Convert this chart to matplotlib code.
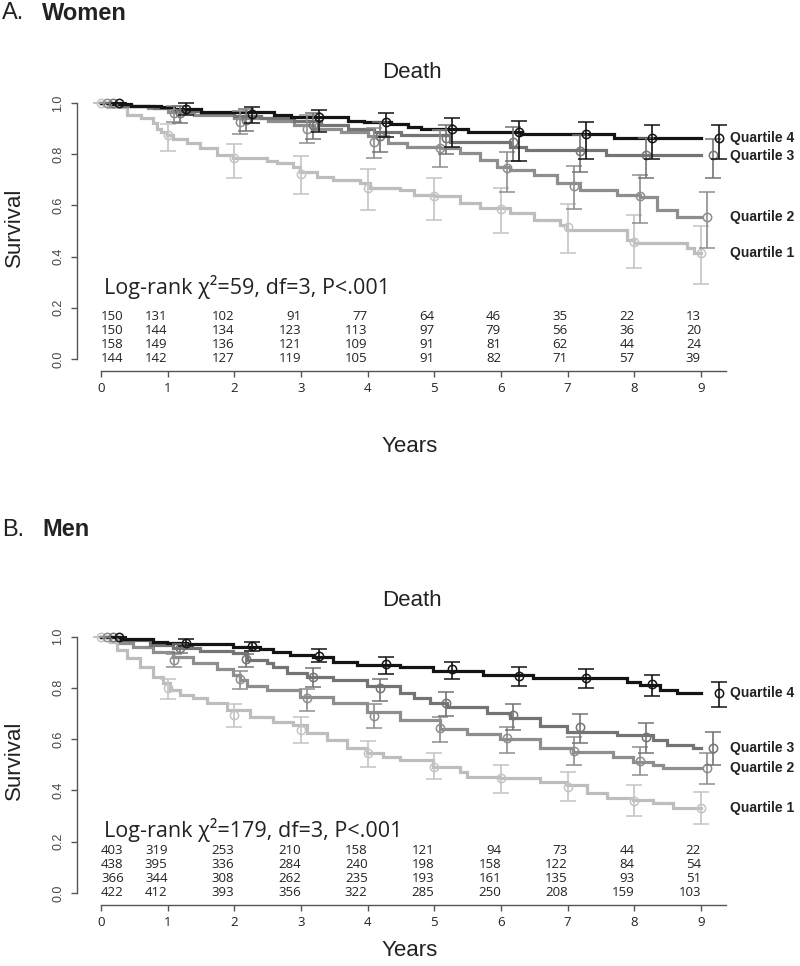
import matplotlib
matplotlib.use("Agg")
import matplotlib.pyplot as plt
import numpy as np

# ---------------- data ----------------
quartiles = ["Quartile 1", "Quartile 2", "Quartile 3", "Quartile 4"]
year_ticks = [0, 1, 2, 3, 4, 5, 6, 7, 8, 9]
surv_ticks = [0.0, 0.2, 0.4, 0.6, 0.8, 1.0]

# Women KM step curves (time of step, survival after step)
w_q1_t = [0, 0.1, 0.385, 0.6, 0.785, 0.835, 0.9, 0.985, 1.085, 1.285, 1.485, 1.735, 1.985, 2.485, 2.635,
          2.885, 2.985, 3.235, 3.485, 3.885, 4.035, 4.485, 4.69, 4.99, 5.39, 5.69, 6.14, 6.49, 6.89,
          6.99, 7.89, 7.99, 8.79, 8.89]
w_q1_s = [1.0, 0.985, 0.953, 0.94, 0.92, 0.9, 0.885, 0.875, 0.86, 0.842, 0.823, 0.797, 0.784, 0.775, 0.767,
          0.749, 0.732, 0.712, 0.699, 0.686, 0.667, 0.66, 0.641, 0.635, 0.608, 0.589, 0.569, 0.543, 0.523,
          0.504, 0.465, 0.452, 0.432, 0.413]
w_q2_t = [0, 0.3, 0.7, 1.0, 1.4, 2.0, 2.5, 2.9, 3.2, 3.6, 4.0, 4.3, 4.59, 5.09, 5.39, 5.69, 5.94, 6.14,
          6.49, 6.84, 7.19, 7.74, 8.09, 8.34, 8.64]
w_q2_s = [1.0, 0.99, 0.98, 0.966, 0.953, 0.94, 0.93, 0.915, 0.9, 0.888, 0.87, 0.845, 0.83, 0.823, 0.803,
          0.777, 0.749, 0.738, 0.719, 0.686, 0.66, 0.64, 0.631, 0.582, 0.553]
w_q3_t = [0, 0.3, 0.8, 1.1, 1.5, 2.0, 2.4, 2.9, 3.3, 3.7, 4.1, 4.5, 5.23, 6.13, 6.38, 7.58]
w_q3_s = [1.0, 0.99, 0.98, 0.97, 0.96, 0.95, 0.94, 0.93, 0.915, 0.9, 0.885, 0.875, 0.849, 0.83, 0.816, 0.797]
w_q4_t = [0, 0.15, 0.45, 0.9, 1.1, 1.5, 2.6, 2.85, 3.7, 3.95, 4.35, 4.6, 4.8, 5.5, 6.3, 7.7]
w_q4_s = [1.0, 0.995, 0.99, 0.985, 0.975, 0.965, 0.955, 0.945, 0.93, 0.925, 0.918, 0.907, 0.898, 0.888,
          0.879, 0.862]

# Men KM step curves
m_q1_t = [0, 0.135, 0.235, 0.385, 0.585, 0.785, 0.935, 1.035, 1.185, 1.385, 1.585, 1.885, 2.235, 2.585,
          2.885, 3.085, 3.385, 3.685, 3.985, 4.235, 4.485, 4.985, 5.385, 5.485, 5.985, 6.585, 6.985, 7.285,
          7.585, 7.985, 8.285, 8.585]
m_q1_s = [1.0, 0.98, 0.947, 0.915, 0.882, 0.843, 0.818, 0.791, 0.772, 0.759, 0.74, 0.713, 0.687, 0.668,
          0.655, 0.623, 0.596, 0.564, 0.545, 0.529, 0.519, 0.492, 0.473, 0.453, 0.447, 0.434, 0.421, 0.389,
          0.369, 0.363, 0.35, 0.33]
m_q2_t = [0, 0.285, 0.485, 0.785, 1.085, 1.385, 1.735, 1.985, 2.085, 2.185, 2.485, 2.985, 3.485, 3.985,
          4.485, 5.085, 5.485, 5.985, 6.585, 7.085, 7.685, 7.985, 8.285, 8.435]
m_q2_s = [1.0, 0.973, 0.96, 0.941, 0.919, 0.895, 0.872, 0.85, 0.83, 0.807, 0.791, 0.765, 0.742, 0.707,
          0.674, 0.638, 0.62, 0.599, 0.564, 0.551, 0.531, 0.512, 0.499, 0.486]
m_q3_t = [0, 0.285, 0.735, 1.085, 1.485, 1.985, 2.185, 2.485, 2.585, 2.785, 3.085, 3.485, 3.985, 4.485,
          4.7, 4.94, 5.185, 5.785, 6.135, 6.585, 6.985, 7.735, 8.285, 8.485, 8.885]
m_q3_s = [1.0, 0.985, 0.967, 0.954, 0.945, 0.937, 0.908, 0.895, 0.88, 0.857, 0.843, 0.83, 0.807, 0.778,
          0.76, 0.74, 0.726, 0.70, 0.681, 0.651, 0.629, 0.616, 0.596, 0.577, 0.564]
m_q4_t = [0, 0.3, 0.785, 0.985, 1.285, 1.985, 2.385, 2.585, 2.835, 3.185, 3.485, 3.835, 4.485, 4.985,
          5.735, 6.485, 7.885, 8.085, 8.385, 8.635]
m_q4_s = [1.0, 0.989, 0.98, 0.973, 0.97, 0.96, 0.953, 0.941, 0.928, 0.919, 0.902, 0.889, 0.882, 0.867,
          0.85, 0.837, 0.824, 0.811, 0.791, 0.778]

follow_up_end = 9.0

# Yearly survival estimates with 95% CI (years 0..9), women
w_q1_est = [1.0, 0.875, 0.784, 0.723, 0.667, 0.635, 0.585, 0.517, 0.458, 0.413]
w_q1_lo = [1.0, 0.812, 0.706, 0.645, 0.582, 0.543, 0.491, 0.415, 0.354, 0.293]
w_q1_hi = [1.0, 0.918, 0.84, 0.793, 0.741, 0.706, 0.667, 0.605, 0.562, 0.52]
w_q2_est = [1.0, 0.96, 0.927, 0.9, 0.849, 0.823, 0.745, 0.676, 0.637, 0.553]
w_q2_lo = [1.0, 0.925, 0.88, 0.845, 0.784, 0.749, 0.654, 0.585, 0.533, 0.432]
w_q2_hi = [1.0, 0.99, 0.97, 0.955, 0.904, 0.894, 0.81, 0.754, 0.719, 0.654]
w_q3_est = [1.0, 0.96, 0.935, 0.915, 0.87, 0.862, 0.849, 0.814, 0.797, 0.797]
w_q3_lo = [1.0, 0.92, 0.89, 0.86, 0.81, 0.80, 0.775, 0.732, 0.708, 0.708]
w_q3_hi = [1.0, 0.99, 0.975, 0.96, 0.925, 0.915, 0.905, 0.875, 0.862, 0.858]
w_q4_est = [1.0, 0.975, 0.958, 0.944, 0.925, 0.898, 0.888, 0.879, 0.862, 0.862]
w_q4_lo = [1.0, 0.955, 0.923, 0.888, 0.866, 0.83, 0.773, 0.78, 0.781, 0.781]
w_q4_hi = [1.0, 1.0, 0.986, 0.973, 0.96, 0.94, 0.931, 0.925, 0.916, 0.916]

# men
m_q1_est = [1.0, 0.798, 0.694, 0.635, 0.545, 0.492, 0.447, 0.414, 0.36, 0.33]
m_q1_lo = [1.0, 0.755, 0.648, 0.586, 0.492, 0.443, 0.39, 0.36, 0.30, 0.269]
m_q1_hi = [1.0, 0.833, 0.737, 0.685, 0.594, 0.547, 0.499, 0.473, 0.421, 0.395]
m_q2_est = [1.0, 0.908, 0.833, 0.759, 0.69, 0.642, 0.603, 0.555, 0.516, 0.486]
m_q2_lo = [1.0, 0.88, 0.794, 0.711, 0.642, 0.59, 0.547, 0.499, 0.46, 0.425]
m_q2_hi = [1.0, 0.932, 0.867, 0.794, 0.737, 0.687, 0.648, 0.607, 0.568, 0.545]
m_q3_est = [1.0, 0.954, 0.911, 0.841, 0.798, 0.74, 0.694, 0.646, 0.609, 0.564]
m_q3_lo = [1.0, 0.935, 0.882, 0.802, 0.75, 0.69, 0.635, 0.584, 0.545, 0.499]
m_q3_hi = [1.0, 0.972, 0.932, 0.876, 0.834, 0.782, 0.737, 0.698, 0.664, 0.629]
m_q4_est = [1.0, 0.976, 0.964, 0.924, 0.892, 0.872, 0.846, 0.839, 0.814, 0.778]
m_q4_lo = [1.0, 0.962, 0.945, 0.902, 0.854, 0.834, 0.807, 0.798, 0.768, 0.726]
m_q4_hi = [1.0, 0.99, 0.98, 0.95, 0.919, 0.902, 0.88, 0.872, 0.85, 0.824]

# Numbers at risk (rows top to bottom)
w_risk = [[150, 131, 102, 91, 77, 64, 46, 35, 22, 13],
          [150, 144, 134, 123, 113, 97, 79, 56, 36, 20],
          [158, 149, 136, 121, 109, 91, 81, 62, 44, 24],
          [144, 142, 127, 119, 105, 91, 82, 71, 57, 39]]
m_risk = [[403, 319, 253, 210, 158, 121, 94, 73, 44, 22],
          [438, 395, 336, 284, 240, 198, 158, 122, 84, 54],
          [366, 344, 308, 262, 235, 193, 161, 135, 93, 51],
          [422, 412, 393, 356, 322, 285, 250, 208, 159, 103]]

w_logrank = "Log-rank χ²=59, df=3, P<.001"
m_logrank = "Log-rank χ²=179, df=3, P<.001"

# ---------------- style ----------------
line_cols = ["#bdbdbd", "#8e8e8e", "#747474", "#141414"]
bar_cols = ["#c4c4c4", "#8e8e8e", "#747474", "#141414"]
bar_offsets = [0.0, 0.09, 0.18, 0.27]
SANS = ["Liberation Sans", "DejaVu Sans"]
MYR = ["Open Sans", "DejaVu Sans"]

W, H = 800, 966
fig = plt.figure(figsize=(W / 100, H / 100), dpi=100)

XL = (-0.36, 9.7)
YL = (-0.045, 1.04)
SX = 66.67
X0 = 101


def make_axes(y0px, sy):
    left = X0 + XL[0] * SX
    right = X0 + XL[1] * SX
    top = y0px - YL[1] * sy
    bottom = y0px - YL[0] * sy
    ax = fig.add_axes([left / W, 1 - bottom / H, (right - left) / W, (bottom - top) / H])
    ax.set_xlim(*XL)
    ax.set_ylim(*YL)
    ax.patch.set_alpha(0)
    return ax


def draw_panel(ax, curves, ests, risk, logrank, label_y, logrank_y):
    for i in range(4):
        t, s = curves[i]
        tt = list(t) + [follow_up_end]
        ss = list(s) + [s[-1]]
        ax.plot(tt, ss, drawstyle="steps-post", color=line_cols[i], lw=2.3,
                solid_joinstyle="miter", zorder=2 + i)
    for i in range(4):
        est, lo, hi = ests[i]
        est = np.array(est)
        xs = np.array(year_ticks) + bar_offsets[i]
        yerr = [est - np.array(lo), np.array(hi) - est]
        ax.errorbar(xs, est, yerr=yerr, fmt="o", ms=6, mfc="none", mec=bar_cols[i],
                    mew=1.1, ecolor=bar_cols[i], elinewidth=1.2, capsize=6, capthick=1.2,
                    clip_on=False, zorder=6 + i)
    for i in range(4):
        ax.text(9.43, label_y[i], quartiles[i], fontsize=10, fontweight="bold",
                family=SANS, color="#222222", ha="left", va="center", clip_on=False)
    ax.text(0.05, logrank_y, logrank, fontsize=15.5, family=MYR, color="#222222",
            ha="left", va="center")
    row_y = [0.165, 0.11, 0.055, 0.0]
    for r in range(4):
        for k, n in enumerate(risk[r]):
            ax.text(year_ticks[k], row_y[r], str(n), ha="left" if k == 0 else "right",
                    va="center", fontsize=9.5, family=MYR, color="#222222")
    for sp in ["top", "right"]:
        ax.spines[sp].set_visible(False)
    ax.spines["left"].set_bounds(0, 1)
    ax.spines["bottom"].set_bounds(0, 9.37)
    for sp in ["left", "bottom"]:
        ax.spines[sp].set_color("#555555")
        ax.spines[sp].set_linewidth(1.0)
    ax.set_xticks(year_ticks)
    ax.set_xticklabels([str(v) for v in year_ticks], family=MYR, fontsize=9.5, color="#222222")
    ax.set_yticks(surv_ticks)
    ax.set_yticklabels([f"{v:.1f}" for v in surv_ticks], family=SANS, fontsize=9,
                       color="#444444", rotation=90, va="center")
    ax.tick_params(axis="both", length=4, width=1.0, color="#555555")
    ax.tick_params(axis="x", pad=4)
    ax.tick_params(axis="y", pad=5)


axA = make_axes(359, 256.0)
draw_panel(axA,
           [(w_q1_t, w_q1_s), (w_q2_t, w_q2_s), (w_q3_t, w_q3_s), (w_q4_t, w_q4_s)],
           [(w_q1_est, w_q1_lo, w_q1_hi), (w_q2_est, w_q2_lo, w_q2_hi),
            (w_q3_est, w_q3_lo, w_q3_hi), (w_q4_est, w_q4_lo, w_q4_hi)],
           w_risk, w_logrank, [0.414, 0.555, 0.793, 0.863], 0.28)

axB = make_axes(893, 256.5)
draw_panel(axB,
           [(m_q1_t, m_q1_s), (m_q2_t, m_q2_s), (m_q3_t, m_q3_s), (m_q4_t, m_q4_s)],
           [(m_q1_est, m_q1_lo, m_q1_hi), (m_q2_est, m_q2_lo, m_q2_hi),
            (m_q3_est, m_q3_lo, m_q3_hi), (m_q4_est, m_q4_lo, m_q4_hi)],
           m_risk, m_logrank, [0.331, 0.487, 0.565, 0.78], 0.245)


def ftext(xpx, ypx, s, **kw):
    fig.text(xpx / W, 1 - ypx / H, s, **kw)


ftext(2, 13, "A.", fontsize=17, family=SANS, color="#222222", va="center", ha="left")
ftext(42, 13, "Women", fontsize=17, family=SANS, fontweight="bold", color="#222222",
      va="center", ha="left")
ftext(2, 530, "B.", fontsize=17, family=SANS, color="#222222", va="center", ha="left")
ftext(42, 530, "Men", fontsize=17, family=SANS, fontweight="bold", color="#222222",
      va="center", ha="left")

for ytitle, ysurv, yyears in [(72, 227, 446), (601, 760, 950)]:
    ftext(412, ytitle, "Death", fontsize=16, family=SANS, color="#222222", ha="center", va="center")
    ftext(14, ysurv, "Survival", fontsize=16, family=SANS, color="#222222", ha="center",
          va="center", rotation=90)
    ftext(410, yyears, "Years", fontsize=16, family=SANS, color="#222222", ha="center", va="center")

fig.savefig("out.png", dpi=100)
